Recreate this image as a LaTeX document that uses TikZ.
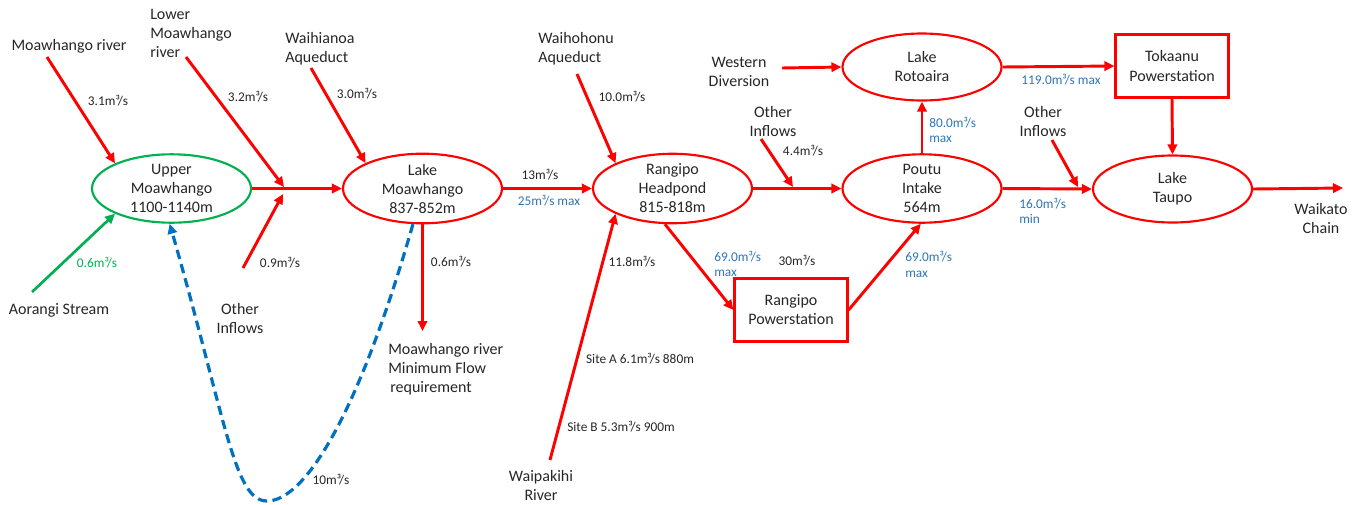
\documentclass[tikz,border=0pt]{standalone}
\usepackage{fontspec}
\setmainfont{Carlito}
\usetikzlibrary{arrows.meta,shapes.geometric}
\definecolor{flowred}{RGB}{255,0,0}
\definecolor{lakegreen}{RGB}{0,176,80}
\definecolor{dashblue}{RGB}{0,112,192}
\definecolor{lblblue}{RGB}{46,117,182}
\definecolor{txtgray}{RGB}{38,38,38}
\begin{document}
\begin{tikzpicture}[x=0.75pt,y=-0.75pt,
  lake/.style={ellipse, draw=flowred, line width=1.6pt, minimum width=119.25pt, minimum height=50.25pt, inner sep=0pt, align=center, font=\fontsize{12}{14.25}\selectfont, text=txtgray},
  station/.style={rectangle, draw=flowred, line width=1.6pt, minimum width=84.75pt, minimum height=47.25pt, inner sep=0pt, align=center, font=\fontsize{12}{14.25}\selectfont, text=txtgray},
  txt/.style={inner sep=0pt, align=center, font=\fontsize{12}{14.25}\selectfont, text=txtgray},
  small/.style={inner sep=0pt, align=left, font=\fontsize{10}{11.6}\selectfont, text=txtgray},
  bluelbl/.style={small, text=lblblue},
  flow/.style={draw=flowred, line width=2.2pt, -{Triangle[length=7.5pt,width=7pt]}},
  greenflow/.style={draw=lakegreen, line width=2pt, -{Triangle[length=7.5pt,width=7pt]}},
  dashflow/.style={draw=dashblue, line width=2.4pt, dash pattern=on 7pt off 4pt, -{Triangle[length=7.5pt,width=7pt]}}
]
\useasboundingbox (0,0) rectangle (1363,504);

% main nodes
\node[lake, draw=lakegreen] (um) at (171.5,188.5) {Upper\\Moawhango\\1100-1140m};
\node[lake] (lm) at (422.5,188.5) {Lake\\Moawhango\\837-852m};
\node[lake] (rp) at (672.5,188.5) {Rangipo\\Headpond\\815-818m};
\node[lake] (pi) at (922,188.5) {Poutu\\Intake\\564m};
\node[lake] (lt) at (1172.5,189) {Lake\\Taupo};
\node[lake] (lr) at (922,67) {Lake\\Rotoaira};
\node[station] (tk) at (1172,66) {Tokaanu\\Powerstation};
\node[station] (rps) at (791,310) {Rangipo\\Powerstation};

% source / sink texts
\node[txt] (tmr) at (69,46) {Moawhango river};
\node[txt, anchor=west, align=left] (tlmr) at (150,33) {Lower\\Moawhango\\river};
\node[txt, anchor=west, align=left] (twa) at (285,48.5) {Waihianoa\\Aqueduct};
\node[txt] (tas) at (59,310) {Aorangi Stream};
\node[txt] (toi1) at (240,318) {Other\\Inflows};
\node[txt, anchor=west, align=left] (tmf) at (388,369) {Moawhango river\\Minimum Flow\\\hspace{1.5pt}requirement};
\node[txt, anchor=west, align=left] (twh) at (538,49) {Waihohonu\\Aqueduct};
\node[txt] (twp) at (541,485) {Waipakihi\\River};
\node[txt] (twd) at (739,71.5) {Western\\Diversion};
\node[txt] (toi2) at (773,121.5) {Other\\Inflows};
\node[txt] (toi3) at (1043,121.5) {Other\\Inflows};
\node[txt] (twc) at (1321,218) {Waikato\\Chain};

% free ends
\coordinate (c1) at (47,57);
\coordinate (c2) at (186,57);
\coordinate (j1) at (284,187);
\coordinate (c3) at (311,68);
\coordinate (c4) at (243,268);
\coordinate (j1b) at (283,194);
\coordinate (c5) at (32,292);
\coordinate (c6) at (421,331);
\coordinate (c7) at (577,74);
\coordinate (c8) at (550,460);
\coordinate (c9) at (761,139);
\coordinate (j2) at (793,187);
\coordinate (c10) at (782,68);
\coordinate (c11) at (1052,140);
\coordinate (j3) at (1078,187);
\coordinate (c12) at (1343,188);
\coordinate (b1) at (267,501);

% connectors
\draw[flow] (c1) -- (um.156);
\draw[flow] (c2) -- (j1);
\draw[flow] (c3) -- (lm.156);
\draw[flow] (c4) -- (j1b);
\draw[greenflow] (c5) -- (um.204);
\draw[flow] (um.east) -- (lm.west);
\draw[flow] (lm.south) -- (lm.south |- c6);
\draw[flow] (lm.east) -- (rp.west);
\draw[flow] (c7) -- (rp.156);
\draw[flow] (c8) -- (rp.204);
\draw[flow] (rp.east) -- (pi.west);
\draw[flow] (c9) -- (j2);
\draw[flow] (rp.258) -- (rps.west);
\draw[flow] (rps.east) -- (pi.268);
\draw[flow] (c10) -- (lr.west);
\draw[flow] (pi.north) -- (lr.south);
\draw[flow] (lr.east) -- (tk.west);
\draw[flow] (tk.south) -- (lt.north);
\draw[flow] (pi.east) -- (lt.west);
\draw[flow] (c11) -- (j3);
\draw[flow] (lt.east) -- (c12);
\draw[dashflow] (lm.255) .. controls (355,426) and (302,501) .. (b1)
  .. controls (234,501) and (226,420) .. (um.267);

% flow labels
\node[small] (l1) at (108,101) {3.1m³/s};
\node[small] (l2) at (248,97) {3.2m³/s};
\node[small] (l3) at (357,94) {3.0m³/s};
\node[small, text=lakegreen] (l4) at (97,263) {0.6m³/s};
\node[small] (l5) at (280,263) {0.9m³/s};
\node[small] (l6) at (331,480) {10m³/s};
\node[small] (l7) at (451,262) {0.6m³/s};
\node[small] (l8) at (540,175) {13m³/s};
\node[bluelbl] (l9) at (549,201) {25m³/s max};
\node[small] (l10) at (622,97) {10.0m³/s};
\node[small] (l11) at (632,262) {11.8m³/s};
\node[small] (l12) at (640,359) {Site A 6.1m³/s 880m};
\node[small] (l13) at (621,427) {Site B 5.3m³/s 900m};
\node[bluelbl, anchor=west] (l14) at (714,264) {69.0m³/s\\max};
\node[small] (l15) at (797,261) {30m³/s};
\node[bluelbl, anchor=west] (l16) at (905,264.5) {69.0m³/s\\max};
\node[small] (l17) at (803,151) {4.4m³/s};
\node[bluelbl, anchor=west] (l18) at (929,130) {80.0m³/s\\max};
\node[bluelbl] (l19) at (1061,80) {119.0m³/s max};
\node[bluelbl, anchor=west] (l20) at (1019,211) {16.0m³/s\\min};
\end{tikzpicture}
\end{document}
